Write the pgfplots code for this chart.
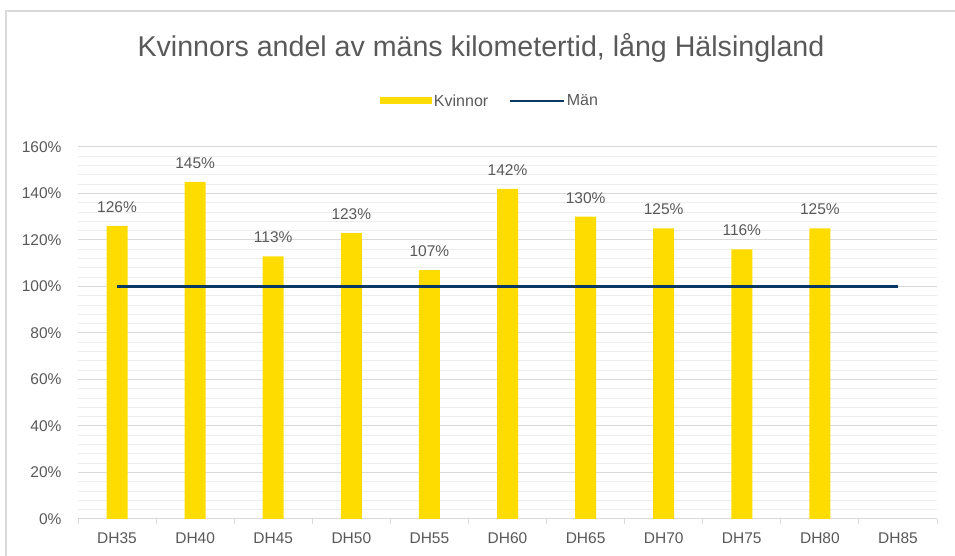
\documentclass[border=0pt]{standalone}
\usepackage{fontspec}
\setmainfont{Liberation Sans}
\usepackage{pgfplots}
\pgfplotsset{compat=1.18}
\definecolor{kyellow}{HTML}{FFDC00}
\definecolor{mnavy}{HTML}{0A3865}
\definecolor{txt}{HTML}{595959}
\definecolor{majgrid}{HTML}{D9D9D9}
\definecolor{mingrid}{HTML}{EDEDED}
\definecolor{frame}{HTML}{D9D9D9}
\begin{document}
\begin{tikzpicture}[x=1pt,y=1pt]
\path[use as bounding box] (0,0) rectangle (955,556);
\draw[frame, line width=1.3pt] (6,0) -- (6,545) -- (955,545);
\begin{axis}[
  at={(78pt,37pt)}, anchor=south west,
  scale only axis, width=859pt, height=372pt,
  xmin=-0.5, xmax=10.5, ymin=0, ymax=160,
  axis x line*=bottom, axis y line*=left,
  y axis line style={draw=none},
  x axis line style={draw=majgrid, line width=1pt},
  xtick={-0.5,0.5,...,10.5},
  x tick label as interval,
  xticklabels={DH35,DH40,DH45,DH50,DH55,DH60,DH65,DH70,DH75,DH80,DH85},
  xtick style={draw=majgrid, line width=1pt},
  tick align=outside, major tick length=5pt,
  ytick={0,20,...,160},
  minor ytick={4,8,12,16,24,28,32,36,44,48,52,56,64,68,72,76,84,88,92,96,104,108,112,116,124,128,132,136,144,148,152,156},
  ytick style={draw=none},
  minor y tick style={draw=none},
  ymajorgrids, yminorgrids,
  major grid style={draw=majgrid, line width=1pt},
  minor grid style={draw=mingrid, line width=0.9pt},
  yticklabel={\pgfmathprintnumber{\tick}\%},
  /pgf/number format/assume math mode=true,
  ticklabel style={font=\fontsize{15.5}{18}\selectfont, text=txt},
  yticklabel style={xshift=-8pt},
  xticklabel style={yshift=-5pt},
  legend style={at={(0.4796,1.1237)}, anchor=center, draw=none, fill=none,
    font=\fontsize{16}{18}\selectfont, text=txt, legend columns=2,
    /tikz/every even column/.append style={column sep=18pt}},
  legend cell align=left,
]
\addplot[ybar, bar width=21pt, fill=kyellow, draw=none,
  nodes near coords={\pgfmathprintnumber{\pgfplotspointmeta}\%},
  every node near coord/.append style={font=\fontsize{15.5}{18}\selectfont, text=txt, yshift=10pt},
  legend image code/.code={\fill[kyellow] (0pt,-3.5pt) rectangle (52pt,3.5pt);}]
  coordinates {(0,126) (1,145) (2,113) (3,123) (4,107) (5,142) (6,130) (7,125) (8,116) (9,125)};
\addlegendentry{Kvinnor}
\addplot[sharp plot, mnavy, line width=2.6pt, mark=none,
  legend image code/.code={\draw[mnavy, line width=2.6pt] (0pt,0pt) -- (54pt,0pt);}]
  coordinates {(0,100) (1,100) (2,100) (3,100) (4,100) (5,100) (6,100) (7,100) (8,100) (9,100) (10,100)};
\addlegendentry{Män}
\end{axis}
\node[font=\fontsize{28.6}{32}\selectfont, text=txt] at (481,508) {Kvinnors andel av mäns kilometertid, lång Hälsingland};
\end{tikzpicture}
\end{document}
